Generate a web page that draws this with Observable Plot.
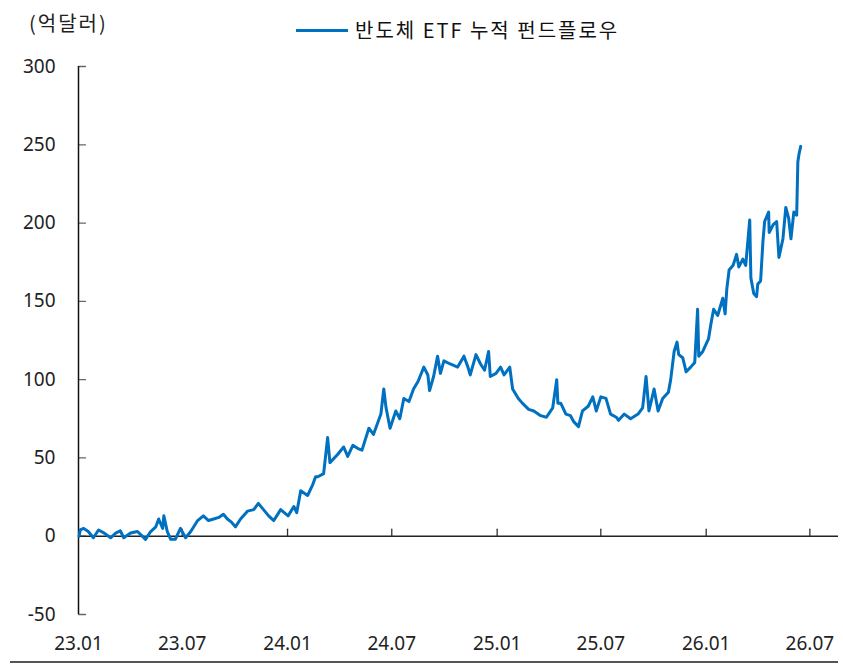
<!DOCTYPE html>
<html><head><meta charset="utf-8">
<script src="https://cdn.jsdelivr.net/npm/d3@7"></script>
<script src="https://cdn.jsdelivr.net/npm/@observablehq/plot@0.6"></script>
<style>
body{margin:0;background:#fff;}
#wrap{position:relative;width:843px;height:667px;font-family:"Noto Sans","Noto Sans CJK KR",sans-serif;}
#wrap svg{position:absolute;left:0;top:0;}
#unit{position:absolute;left:29px;top:10px;font-size:20px;letter-spacing:2px;color:#222;font-family:"Noto Sans CJK KR",sans-serif;line-height:26px;}
#legend{position:absolute;left:296px;top:17px;display:flex;align-items:center;font-size:20px;letter-spacing:2px;color:#111;font-family:"Noto Sans CJK KR",sans-serif;line-height:26px;}
#legend .sw{width:52px;height:3px;background:#0070C0;margin-right:7px;}
#rule{position:absolute;left:10px;top:661px;width:828px;height:2px;background:#555;}
</style></head>
<body>
<div id="wrap">
  <div id="unit"></div>
  <div id="legend"><span class="sw"></span><span id="legtext"></span></div>
  <div id="rule"></div>
</div>
<script>
const unitLabel = "(억달러)";
const seriesName = "반도체 ETF 누적 펀드플로우";
const yTicks = [-50, 0, 50, 100, 150, 200, 250, 300];
const xTickLabels = ["2023-01-01","2023-07-01","2024-01-01","2024-07-01","2025-01-01","2025-07-01","2026-01-01","2026-07-01"];
const dates = [
"2023-01-02","2023-01-04","2023-01-10","2023-01-18","2023-01-27","2023-02-05","2023-02-15","2023-02-26","2023-03-07","2023-03-15",
"2023-03-21","2023-04-02","2023-04-14","2023-04-28","2023-05-07","2023-05-16","2023-05-21","2023-05-28","2023-05-30","2023-06-05",
"2023-06-11","2023-06-19","2023-06-28","2023-07-07","2023-07-16","2023-07-28","2023-08-07","2023-08-16","2023-08-25","2023-09-03",
"2023-09-11","2023-09-18","2023-09-25","2023-10-02","2023-10-11","2023-10-23","2023-11-03","2023-11-11","2023-11-20","2023-11-29",
"2023-12-08","2023-12-20","2024-01-02","2024-01-12","2024-01-17","2024-01-24","2024-02-05","2024-02-14","2024-02-19","2024-02-23",
"2024-03-04","2024-03-11","2024-03-15","2024-03-28","2024-04-08","2024-04-15","2024-04-24","2024-05-03","2024-05-10","2024-05-22",
"2024-05-30","2024-06-12","2024-06-17","2024-06-21","2024-06-28","2024-07-08","2024-07-15","2024-07-22","2024-07-31","2024-08-08",
"2024-08-16","2024-08-26","2024-09-02","2024-09-05","2024-09-12","2024-09-19","2024-09-24","2024-09-30","2024-10-11","2024-10-24",
"2024-11-04","2024-11-11","2024-11-15","2024-11-25","2024-12-03","2024-12-10","2024-12-17","2024-12-20","2024-12-30","2025-01-07",
"2025-01-13","2025-01-23","2025-01-28","2025-02-07","2025-02-14","2025-02-25","2025-03-06","2025-03-18","2025-03-28","2025-04-08",
"2025-04-15","2025-04-17","2025-04-22","2025-05-01","2025-05-09","2025-05-15","2025-05-23","2025-05-30","2025-06-09","2025-06-17",
"2025-06-23","2025-07-01","2025-07-10","2025-07-18","2025-07-28","2025-08-01","2025-08-11","2025-08-22","2025-09-04","2025-09-12",
"2025-09-18","2025-09-23","2025-10-02","2025-10-09","2025-10-17","2025-10-27","2025-10-31","2025-11-06","2025-11-11","2025-11-14",
"2025-11-21","2025-11-27","2025-12-05","2025-12-12","2025-12-17","2025-12-19","2025-12-26","2026-01-05","2026-01-09","2026-01-14",
"2026-01-21","2026-01-30","2026-02-03","2026-02-06","2026-02-10","2026-02-17","2026-02-23","2026-02-27","2026-03-06","2026-03-11",
"2026-03-18","2026-03-20","2026-03-25","2026-03-30","2026-04-01","2026-04-06","2026-04-10","2026-04-13","2026-04-20","2026-04-21",
"2026-04-28","2026-05-04","2026-05-08","2026-05-15","2026-05-20","2026-05-25","2026-05-29","2026-06-03","2026-06-08","2026-06-10",
"2026-06-12","2026-06-15"];
const values = [
0,4,5,3,-1,4,2,-1,2,3.5,
-1,2,3,-2,3,6,11,5,13,3,
-2,-2,5,-1,3,10,13,10,11,12,
14,11,9,6,11,16,17,21,17,13,
10,17,13,19,15,29,26,33,38,38,
40,63,47,52,57,51,58,56,55,69,
65,78,94,82,69,80,75,88,86,94,
99,108,103,93,102,115,104,112,110,108,
115,108,103,116,110,106,118,102,104,108,
103,108,94,88,85,81,80,77,76,82,
100,85,85,78,77,73,70,80,83,89,
80,89,88,78,76,74,78,75,78,82,
102,80,94,80,88,92,100,118,124,116,
114,105,108,111,145,115,118,126,135,145,
141,152,142,158,170,173,180,172,177,173,
202,165,155,153,161,163,188,201,207,194,
199,201,178,190,210,203,190,207,205,239,
244,249];

document.getElementById("unit").textContent = unitLabel;
document.getElementById("legtext").textContent = seriesName;

const data = dates.map((d, i) => ({date: new Date(d), value: values[i]}));
const xTicks = xTickLabels.map(d => new Date(d));
const xStart = xTicks[0];
const tickShape = {draw(context, l) { context.moveTo(0, 0); context.lineTo(0, -l); }};

const chart = Plot.plot({
  width: 843, height: 667,
  marginLeft: 78, marginRight: 5, marginTop: 66, marginBottom: 53,
  style: {fontFamily: '"Noto Sans","Noto Sans CJK KR",sans-serif', fontSize: "19px", color: "#222", background: "transparent", overflow: "visible"},
  x: {type: "utc", domain: [new Date("2023-01-01"), new Date("2026-08-20")]},
  y: {domain: [-50, 300]},
  marks: [
    Plot.axisY(yTicks, {tickSize: 0, tickPadding: 23, label: null, fontSize: 19, tickFormat: d => String(d)}),
    Plot.axisX(xTicks, {tickSize: 0, tickPadding: 22, label: null, fontSize: 19, tickFormat: d3.utcFormat("%y.%m")}),
    Plot.vector(yTicks, {x: () => xStart, y: d => d, length: 7, rotate: 90, anchor: "start", shape: tickShape, stroke: "#666", strokeWidth: 1.3}),
    Plot.vector(xTicks.slice(1), {x: d => d, y: () => 0, length: 7, rotate: 0, anchor: "start", shape: tickShape, stroke: "#333", strokeWidth: 1.3}),
    Plot.ruleX([xStart], {y1: -50, y2: 300, stroke: "#111", strokeWidth: 1.5}),
    Plot.ruleY([0], {stroke: "#222", strokeWidth: 1.5}),
    Plot.lineY(data, {x: "date", y: "value", stroke: "#0070C0", strokeWidth: 3, strokeLinejoin: "round"})
  ]
});
document.getElementById("wrap").prepend(chart);
</script>
</body></html>
